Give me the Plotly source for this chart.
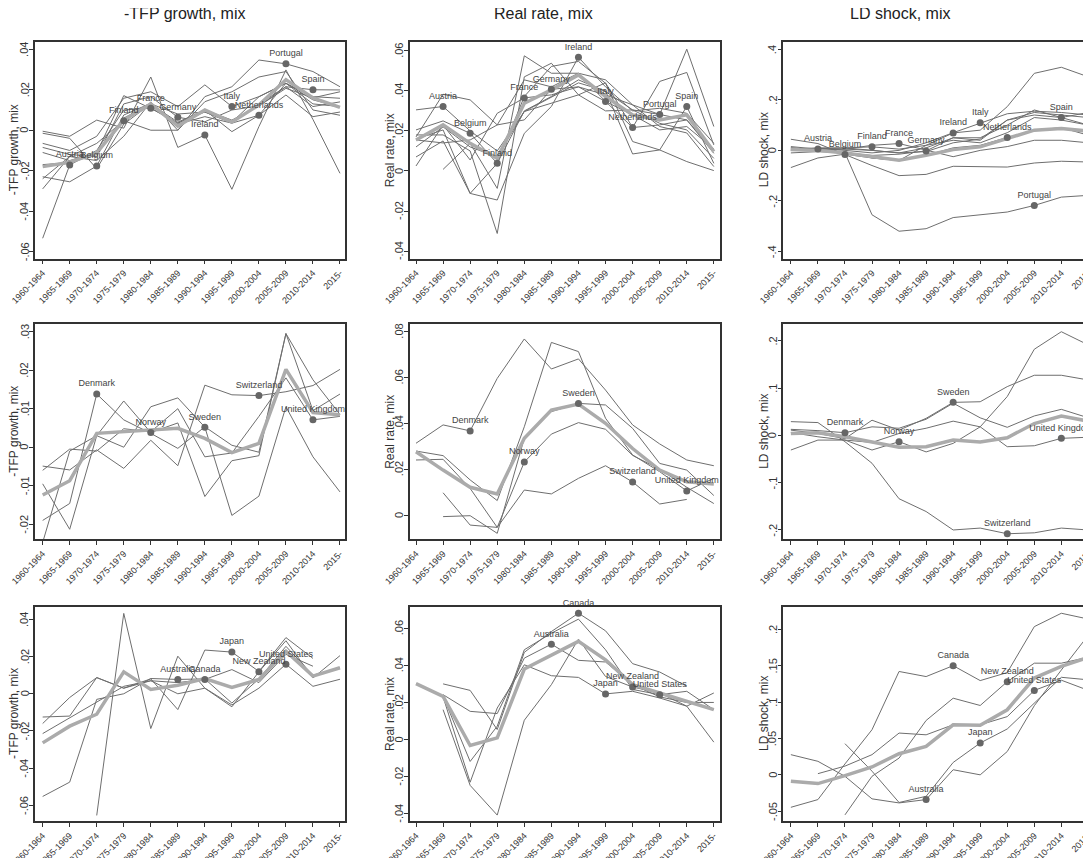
import plotly.graph_objects as go

cats = ["1960-1964", "1965-1969", "1970-1974", "1975-1979", "1980-1984", "1985-1989",
        "1990-1994", "1995-1999", "2000-2004", "2005-2009", "2010-2014", "2015-"]

col_titles = ["-TFP growth, mix", "Real rate, mix", "LD shock, mix"]
ytitles = ["-TFP growth, mix", "Real rate, mix", "LD shock, mix"]

g1 = ["Austria", "Belgium", "Finland", "France", "Germany", "Ireland", "Italy",
      "Netherlands", "Portugal", "Spain"]
g1_label_idx = [1, 2, 3, 4, 5, 6, 7, 8, 9, 10]
g2 = ["Denmark", "Norway", "Sweden", "Switzerland", "United Kingdom"]
g2_label_idx = [2, 4, 6, 8, 10]
g3 = ["Australia", "Canada", "Japan", "New Zealand", "United States"]
g3_label_idx = [5, 6, 7, 8, 9]

# ---- Row 1 (group 1) ----
tfp_g1 = {
    "Austria":     [-.0534, -.0172, -.0100, .0100, .0110, .0035, .0090, .0040, .0165, .0232, .0150, .0115],
    "Belgium":     [-.0230, -.0255, -.0177, .0075, .0133, .0030, .0067, .0035, .0130, .0215, .0117, .0140],
    "Finland":     [-.0290, -.0130, -.0065, .0047, .0000, .0000, .0141, .0190, .0263, .0290, .0100, .0074],
    "France":      [-.0110, -.0150, -.0110, .0171, .0108, .0035, .0100, -.0007, .0074, .0174, .0067, .0090],
    "Germany":     [-.0085, -.0120, -.0130, .0130, .0166, .0064, .0042, .0100, .0120, .0207, .0160, .0190],
    "Ireland":     [-.0005, -.0030, .0050, .0010, .0263, -.0085, -.0024, -.0292, .0018, .0298, .0053, -.0213],
    "Italy":       [-.0065, -.0100, -.0030, .0158, .0190, .0117, .0224, .0117, .0166, .0232, .0166, .0158],
    "Netherlands": [-.0015, -.0040, -.0190, .0030, .0130, .0080, .0090, .0035, .0074, .0232, .0130, .0117],
    "Portugal":    [-.0240, -.0130, -.0150, -.0030, .0140, .0000, .0166, .0215, .0347, .0328, .0290, .0215],
    "Spain":       [-.0170, -.0160, -.0120, .0060, .0130, .0040, .0100, .0050, .0120, .0215, .0200, .0199],
}
tfp_g1_mean = [-.0180, -.0158, -.0112, .0050, .0130, .0020, .0100, .0040, .0125, .0250, .0160, .0113]

rr_g1 = {
    "Austria":     [.0305, .0322, .0200, .0100, .0297, .0340, .0380, .0300, .0305, .0282, .0255, .0088],
    "Belgium":     [.0205, .0250, .0188, .0038, .0300, .0372, .0455, .0397, .0305, .0238, .0205, .0063],
    "Finland":     [.0070, .0150, -.0112, .0038, .0372, .0522, .0547, .0438, .0147, .0105, .0047, .0002],
    "France":      [.0025, .0230, .0055, .0288, .0365, .0380, .0420, .0380, .0330, .0222, .0190, .0022],
    "Germany":     [.0155, .0140, .0155, .0230, .0255, .0408, .0420, .0347, .0280, .0205, .0222, .0110],
    "Ireland":     [.0160, .0205, -.0112, -.0145, .0188, .0322, .0568, .0420, .0300, .0313, .0288, .0138],
    "Italy":       [None, .0008, .0138, -.0087, .0575, .0488, .0488, .0347, .0217, .0447, .0492, .0130],
    "Netherlands": [.0180, .0180, .0100, -.0312, .0470, .0538, .0380, .0440, .0217, .0230, .0255, .0100],
    "Portugal":    [.0170, .0383, .0355, .0230, .0455, .0420, .0488, .0455, .0330, .0282, .0608, .0222],
    "Spain":       [.0120, .0220, .0120, .0070, .0297, .0370, .0440, .0400, .0085, .0105, .0322, .0038],
}
rr_g1_mean = [.0155, .0230, .0138, .0063, .0338, .0405, .0480, .0372, .0280, .0255, .0280, .0097]

ld_g1 = {
    "Austria":     [.015, .005, .010, .000, -.010, -.005, .030, .045, .120, .150, .140, .130],
    "Belgium":     [.044, .027, -.0165, -.060, -.100, -.095, -.063, -.065, -.066, -.050, -.043, -.046],
    "Finland":     [.005, .010, .010, .014, .005, .020, .040, .030, .070, .130, .120, .100],
    "France":      [.000, .008, .005, .020, .027, .000, -.025, .000, .015, .040, .040, .030],
    "Germany":     [-.010, -.005, -.010, -.020, -.015, -.002, .050, .050, .100, .160, .130, .150],
    "Ireland":     [.010, .000, -.005, -.030, -.040, .020, .069, .080, .173, .305, .329, .291],
    "Italy":       [.005, .008, .000, -.010, .000, .030, .070, .109, .145, .155, .150, .140],
    "Netherlands": [-.068, -.030, -.015, -.030, -.040, -.020, .010, .020, .051, .080, .090, .060],
    "Portugal":    [.010, .003, -.010, -.255, -.320, -.310, -.266, -.255, -.244, -.218, -.185, -.178],
    "Spain":       [.000, .000, .005, .000, -.010, .010, .050, .040, .120, .140, .130, .100],
}
ld_g1_mean = [.003, .000, -.010, -.026, -.039, -.019, .003, .014, .047, .080, .087, .076]

# ---- Row 2 (group 2) ----
tfp_g2 = {
    "Denmark":        [-.0190, -.0146, .0138, .0071, .0036, -.0003, .0053, .0005, -.0013, .0295, .0175, .0085],
    "Norway":         [-.0095, -.0213, .0030, .0120, .0038, .0063, -.0128, -.0035, -.0022, .0295, .0095, .0138],
    "Sweden":         [-.0247, -.0010, .0030, .0000, .0105, .0128, .0052, -.0177, -.0127, .0105, -.0025, -.0116],
    "Switzerland":    [-.0049, -.0059, -.0007, -.0055, .0018, -.0048, .0161, .0136, .0134, .0144, .0160, .0202],
    "United Kingdom": [-.0060, -.0005, -.0010, .0048, .0040, .0100, -.0025, -.0015, .0080, .0180, .0071, .0080],
}
tfp_g2_mean = [-.0124, -.0087, .0036, .0040, .0045, .0049, .0023, -.0014, .0010, .0202, .0090, .0084]

rr_g2 = {
    "Denmark":        [.0313, .0393, .0367, .0596, .0768, .0637, .0681, .0545, .0393, .0310, .0240, .0215],
    "Norway":         [.0240, .0243, .0116, -.0054, .0231, .0353, .0403, .0374, .0260, .0200, .0121, .0050],
    "Sweden":         [None, -.0007, -.0003, -.0080, .0335, .0451, .0487, .0480, .0378, .0225, .0196, .0085],
    "Switzerland":    [None, .0097, -.0044, -.0054, .0109, .0092, .0160, .0215, .0144, .0048, .0068, None],
    "United Kingdom": [.0279, .0259, .0153, .0063, .0385, .0753, .0713, .0422, .0262, .0189, .0105, .0160],
}
rr_g2_mean = [.0276, .0196, .0121, .0092, .0335, .0458, .0484, .0400, .0290, .0196, .0145, .0135]

ld_g2 = {
    "Denmark":        [.0127, .0100, .0056, .0180, .0150, .0340, .0680, .0370, .0170, .0410, .0550, .0370],
    "Norway":         [.0060, -.0030, -.0100, -.0310, -.0134, -.0350, -.0170, .0180, .0820, .1820, .2190, .1910],
    "Sweden":         [.0110, .0040, -.0070, .0320, .0110, .0360, .0697, .0710, .1030, .1270, .1270, .1170],
    "Switzerland":    [.0290, .0270, -.0134, -.0590, -.1340, -.1610, -.2000, -.1960, -.2080, -.2060, -.1960, -.2000],
    "United Kingdom": [-.0310, -.0100, -.0100, -.0150, .0040, .0150, .0300, .0180, -.0240, -.0220, -.0063, -.0040],
}
ld_g2_mean = [.0040, .0056, -.0030, -.0134, -.0250, -.0240, -.0100, -.0140, -.0050, .0250, .0410, .0300]

# ---- Row 3 (group 3) ----
tfp_g3 = {
    "Australia":     [-.0552, -.0475, -.0030, .0000, .0082, .0077, .0080, -.0050, .0080, .0255, .0100, .0140],
    "Canada":        [-.0125, -.0120, .0087, .0030, .0070, .0060, .0077, .0130, .0060, .0212, .0148, None],
    "Japan":         [-.0160, -.0020, .0087, .0030, .0080, -.0085, .0235, .0224, .0120, .0302, .0190, None],
    "New Zealand":   [None, None, -.0654, .0432, -.0187, .0202, .0030, -.0070, .0118, .0285, .0085, .0205],
    "United States": [-.0214, -.0130, -.0047, .0040, .0070, .0000, .0030, -.0060, .0030, .0159, .0040, .0078],
}
tfp_g3_mean = [-.0264, -.0174, -.0110, .0118, .0023, .0046, .0082, .0034, .0077, .0229, .0095, .0140]

rr_g3 = {
    "Australia":     [None, .0242, .0152, .0140, .0439, .0514, .0427, .0418, .0296, .0230, .0200, .0200],
    "Canada":        [None, .0300, .0265, .0054, .0470, .0582, .0681, .0586, .0409, .0364, .0287, None],
    "Japan":         [None, .0230, -.0230, .0170, .0403, .0344, .0335, .0246, .0260, .0224, .0180, .0251],
    "New Zealand":   [None, .0161, -.0247, -.0407, .0104, .0296, .0541, .0340, .0283, .0251, .0180, -.0014],
    "United States": [.0301, .0233, -.0118, .0072, .0484, .0573, .0649, .0484, .0270, .0242, .0260, .0161],
}
rr_g3_mean = [.0301, .0233, -.0032, .0009, .0380, .0457, .0529, .0430, .0296, .0251, .0206, .0161]

ld_g3 = {
    "Australia":     [.0277, .0186, -.0020, -.0330, -.0386, -.0340, .0070, .0000, .0320, .0950, .1440, .1920],
    "Canada":        [-.0446, -.0340, .0150, .0620, .1420, .1350, .1500, .1295, .1405, .2036, .2220, .2140],
    "Japan":         [None, None, .0428, .0050, -.0380, -.0295, .0170, .0437, .0630, .0985, .1340, .1305],
    "New Zealand":   [None, None, -.0550, -.0020, .0230, .0747, .1053, .0953, .1280, .1534, .1534, .1616],
    "United States": [None, .0016, .0120, .0277, .0574, .0550, .0688, .0688, .0800, .1160, .1300, .1160],
}
ld_g3_mean = [-.0089, -.0120, -.0010, .0108, .0290, .0390, .0688, .0680, .0894, .1330, .1490, .1616]

# y-axis ticks per panel
yt_tfp1 = [-.06, -.04, -.02, 0, .02, .04]
yl_tfp1 = ["-.06", "-.04", "-.02", "0", ".02", ".04"]
yt_rr1 = [-.04, -.02, 0, .02, .04, .06]
yl_rr1 = ["-.04", "-.02", "0", ".02", ".04", ".06"]
yt_ld1 = [-.4, -.2, 0, .2, .4]
yl_ld1 = ["-.4", "-.2", "0", ".2", ".4"]
yt_tfp2 = [-.02, -.01, 0, .01, .02, .03]
yl_tfp2 = ["-.02", "-.01", "0", ".01", ".02", ".03"]
yt_rr2 = [0, .02, .04, .06, .08]
yl_rr2 = ["0", ".02", ".04", ".06", ".08"]
yt_ld2 = [-.2, -.1, 0, .1, .2]
yl_ld2 = ["-.2", "-.1", "0", ".1", ".2"]
yt_tfp3 = [-.06, -.04, -.02, 0, .02, .04]
yl_tfp3 = ["-.06", "-.04", "-.02", "0", ".02", ".04"]
yt_rr3 = [-.04, -.02, 0, .02, .04, .06]
yl_rr3 = ["-.04", "-.02", "0", ".02", ".04", ".06"]
yt_ld3 = [-.05, 0, .05, .1, .15, .2]
yl_ld3 = ["-.05", "0", ".05", ".1", ".15", ".2"]

panels = [
    (tfp_g1, tfp_g1_mean, g1, g1_label_idx, yt_tfp1, yl_tfp1, [-.0634, .0436]),
    (rr_g1, rr_g1_mean, g1, g1_label_idx, yt_rr1, yl_rr1, [-.0437, .0644]),
    (ld_g1, ld_g1_mean, g1, g1_label_idx, yt_ld1, yl_ld1, [-.428, .429]),
    (tfp_g2, tfp_g2_mean, g2, g2_label_idx, yt_tfp2, yl_tfp2, [-.0239, .0319]),
    (rr_g2, rr_g2_mean, g2, g2_label_idx, yt_rr2, yl_rr2, [-.0106, .0832]),
    (ld_g2, ld_g2_mean, g2, g2_label_idx, yt_ld2, yl_ld2, [-.2197, .2347]),
    (tfp_g3, tfp_g3_mean, g3, g3_label_idx, yt_tfp3, yl_tfp3, [-.0685, .0468]),
    (rr_g3, rr_g3_mean, g3, g3_label_idx, yt_rr3, yl_rr3, [-.044, .0716]),
    (ld_g3, ld_g3_mean, g3, g3_label_idx, yt_ld3, yl_ld3, [-.0637, .231]),
]

W, H = 1091, 858
OFF = 8.0  # page body margin offset compensation
col_px = [(35.1, 345.4), (409.5, 719.8), (783.3, 1093.8)]
col_xrange = [[-0.28, 11.2], [-0.24, 11.22], [-0.28, 11.2]]
row_px = [(42.0, 258.5), (324.3, 539.3), (606.7, 821.2)]
ytitle_px = [14.0, 390.0, 764.0]
TICKLAB_GAP = 10.5

LINE_C = "#6e6e6e"
MEAN_C = "#ababab"
MARK_C = "#666666"
FRAME_C = "#333333"
FONT = "Liberation Sans, Arial, sans-serif"

fig = go.Figure()
layout = dict(
    width=W, height=H, margin=dict(l=0, r=0, t=0, b=0, autoexpand=False),
    paper_bgcolor="white", plot_bgcolor="white", showlegend=False,
    font=dict(family=FONT, color="#333333"),
)
annotations = []

for k, (data, mean, countries, lidx, yt, yl, yr) in enumerate(panels):
    r, c = divmod(k, 3)
    n = k + 1
    xa = "x" if n == 1 else f"x{n}"
    ya = "y" if n == 1 else f"y{n}"
    for ctry in countries:
        fig.add_trace(go.Scatter(x=cats, y=data[ctry], mode="lines", xaxis=xa, yaxis=ya,
                                 line=dict(color=LINE_C, width=1), hoverinfo="skip"))
    fig.add_trace(go.Scatter(x=cats, y=mean, mode="lines", xaxis=xa, yaxis=ya,
                             line=dict(color=MEAN_C, width=3.5), hoverinfo="skip"))
    mx = [cats[i] for i in lidx]
    my = [data[ctry][i] for ctry, i in zip(countries, lidx)]
    fig.add_trace(go.Scatter(x=mx, y=my, mode="markers+text", text=countries,
                             textposition="top center", xaxis=xa, yaxis=ya,
                             textfont=dict(size=9, color="#444444", family=FONT),
                             marker=dict(color=MARK_C, size=7), hoverinfo="skip",
                             cliponaxis=False))
    x0, x1 = col_px[c][0] - OFF, col_px[c][1] - OFF
    t, b = row_px[r][0] - OFF, row_px[r][1] - OFF
    layout["xaxis" if n == 1 else f"xaxis{n}"] = dict(
        domain=[x0 / W, min(x1 / W, 1.0)], range=col_xrange[c], anchor=ya,
        type="category", tickangle=-45, ticks="outside", ticklen=4, tickwidth=1,
        tickcolor=FRAME_C, showline=True, mirror=True, linecolor=FRAME_C, linewidth=1.5,
        showgrid=False, zeroline=False, automargin=False,
        tickfont=dict(size=9, color="#333333", family=FONT),
    )
    layout["yaxis" if n == 1 else f"yaxis{n}"] = dict(
        domain=[1 - b / H, 1 - t / H], range=yr, anchor=xa,
        tickmode="array", tickvals=yt, ticktext=yl, showticklabels=False,
        ticks="outside", ticklen=4, tickwidth=1, tickcolor=FRAME_C,
        showline=True, mirror=True, linecolor=FRAME_C, linewidth=1.5,
        showgrid=False, zeroline=False, automargin=False,
    )
    # y tick labels (rotated, Stata style)
    for v, lab in zip(yt, yl):
        annotations.append(dict(
            text=lab, x=(x0 - TICKLAB_GAP) / W, y=v, xref="paper", yref=ya,
            textangle=-90, showarrow=False, xanchor="center", yanchor="middle",
            font=dict(size=11, color="#333333", family=FONT)))
    annotations.append(dict(
        text=ytitles[c], x=(ytitle_px[c] - OFF) / W, y=1 - ((t + b) / 2) / H,
        xref="paper", yref="paper", textangle=-90, showarrow=False,
        xanchor="center", yanchor="middle",
        font=dict(size=12, color="#333333", family=FONT)))

title_x = [185, 543, 900]
for i in range(3):
    annotations.append(dict(
        text=col_titles[i], x=(title_x[i] - OFF) / W, y=1 - (14 - OFF) / H,
        xref="paper", yref="paper", showarrow=False, xanchor="center", yanchor="middle",
        font=dict(size=16, color="#222222", family=FONT)))
layout["annotations"] = annotations

fig.update_layout(**layout)
fig.write_html("out.html")
